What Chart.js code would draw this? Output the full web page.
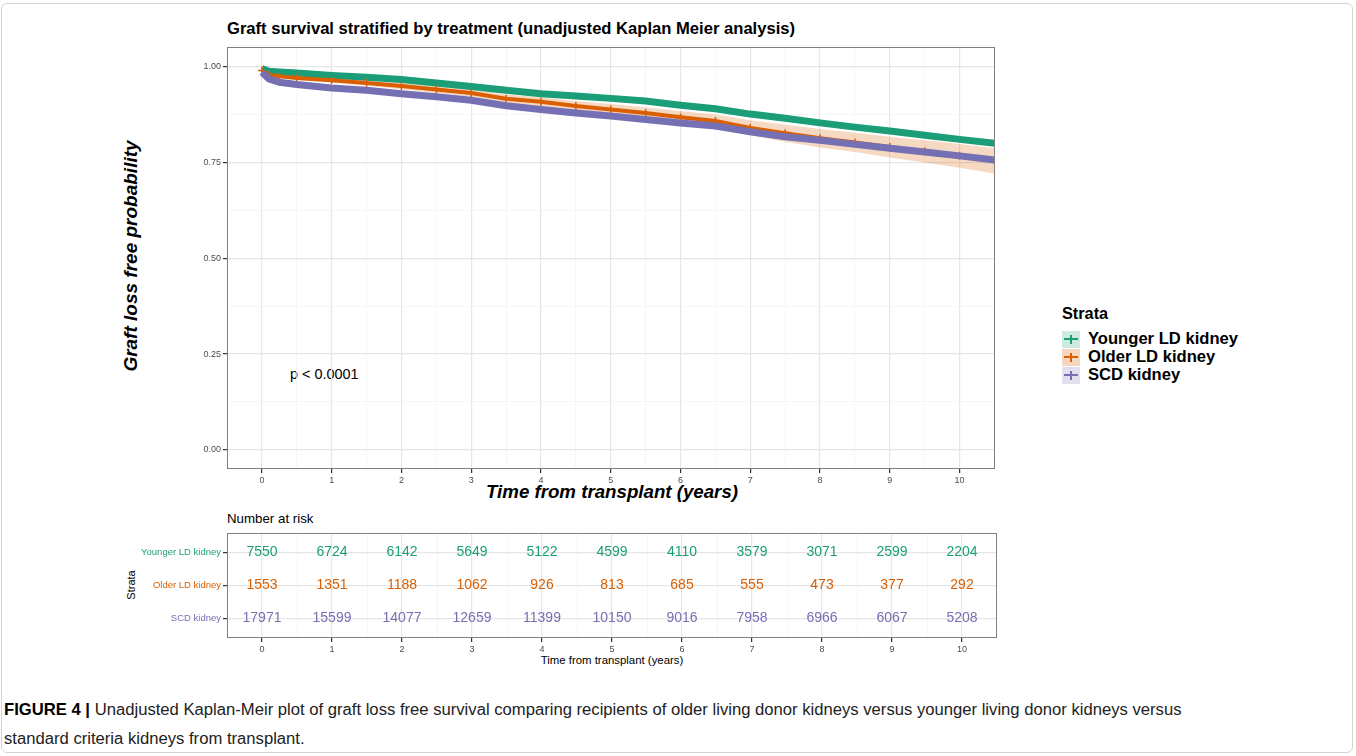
<!DOCTYPE html>
<html>
<head>
<meta charset="utf-8">
<script src="https://cdn.jsdelivr.net/npm/chart.js@4.4.1/dist/chart.umd.min.js"></script>
<style>
  body { margin: 0; background: #fff; font-family: "Liberation Sans", Arial, sans-serif; }
  #page { position: relative; width: 1356px; height: 756px; overflow: hidden; background: #fff; }
  #frame { position: absolute; left: 1px; top: 3px; width: 1350px; height: 748px; border: 1px solid #d4d4d4; border-radius: 6px; }
  .abs { position: absolute; white-space: nowrap; color: #000; }
  #title { left: 227px; top: 20px; font-size: 16.6px; font-weight: bold; line-height: 18px; }
  #ytitle { left: 131px; top: 256px; font-size: 19px; font-weight: bold; font-style: italic; transform: translate(-50%, -50%) rotate(-90deg); }
  #xtitle { left: 612px; top: 492px; font-size: 18.7px; font-weight: bold; font-style: italic; transform: translate(-50%, -50%); }
  #pval { left: 290px; top: 366px; font-size: 14.4px; line-height: 16px; }
  #legend { left: 1062px; top: 304px; }
  #legend .head { font-size: 16.3px; font-weight: bold; line-height: 18px; margin-bottom: 8px; }
  #legend .row { height: 18px; display: flex; align-items: center; font-size: 16.6px; font-weight: bold; }
  #legend .key { position: relative; width: 18px; height: 17px; margin-right: 8px; }
  #legend .key .h { position: absolute; left: 2px; right: 2px; top: 7.5px; height: 2px; }
  #legend .key .v { position: absolute; left: 8px; width: 2px; top: 4px; height: 9px; }
  #riskTitle { left: 227px; top: 511px; font-size: 13.3px; line-height: 16px; }
  #strataLab { left: 131px; top: 585px; font-size: 11px; transform: translate(-50%, -50%) rotate(-90deg); }
  #riskX { left: 612px; top: 660px; font-size: 11.4px; transform: translate(-50%, -50%); }
  #caption { left: 4px; top: 695px; font-size: 16.65px; line-height: 29px; color: #222; }
  #caption b { color: #000; }
  canvas { position: absolute; }
</style>
</head>
<body>
<div id="page">
  <div id="frame"></div>
  <div class="abs" id="title">Graft survival stratified by treatment (unadjusted Kaplan Meier analysis)</div>
  <div class="abs" id="ytitle">Graft loss free probability</div>
  <div class="abs" id="xtitle">Time from transplant (years)</div>
  <div class="abs" id="pval">p &lt; 0.0001</div>
  <div class="abs" id="legend"><div class="head">Strata</div></div>
  <div class="abs" id="riskTitle">Number at risk</div>
  <div class="abs" id="strataLab">Strata</div>
  <div class="abs" id="riskX">Time from transplant (years)</div>
  <div class="abs" id="caption"><b>FIGURE 4 |</b> Unadjusted Kaplan-Meir plot of graft loss free survival comparing recipients of older living donor kidneys versus younger living donor kidneys versus<br>standard criteria kidneys from transplant.</div>
  <canvas id="km" width="850" height="450" style="left:150px;top:40px"></canvas>
  <canvas id="risk" width="880" height="132" style="left:120px;top:525px"></canvas>
</div>
<script>
// strata and colours
var strata = ['Younger LD kidney', 'Older LD kidney', 'SCD kidney'];
var colors = ['#1B9E77', '#D95F02', '#7570B3'];
var keyFill = ['rgba(27,158,119,0.22)', 'rgba(217,95,2,0.25)', 'rgba(117,112,179,0.22)'];

// survival curves
var times   = [0, 0.1, 0.25, 0.5, 1, 1.5, 2, 2.5, 3, 3.5, 4, 4.5, 5, 5.5, 6, 6.5, 7, 7.5, 8, 8.5, 9, 9.5, 10, 10.5];
var younger = [0.995, 0.988, 0.986, 0.983, 0.977, 0.972, 0.966, 0.957, 0.948, 0.938, 0.929, 0.923, 0.917, 0.910, 0.899, 0.890, 0.876, 0.865, 0.853, 0.842, 0.832, 0.821, 0.810, 0.800];
var older   = [0.990, 0.978, 0.975, 0.970, 0.964, 0.957, 0.949, 0.940, 0.931, 0.916, 0.908, 0.897, 0.888, 0.879, 0.868, 0.858, 0.840, 0.826, 0.813, 0.802, 0.790, 0.779, 0.767, 0.754];
var olderUp = [0.993, 0.982, 0.979, 0.975, 0.970, 0.964, 0.957, 0.949, 0.941, 0.927, 0.920, 0.910, 0.902, 0.894, 0.884, 0.875, 0.860, 0.848, 0.837, 0.827, 0.817, 0.808, 0.798, 0.787];
var olderLo = [0.987, 0.974, 0.971, 0.965, 0.958, 0.950, 0.941, 0.931, 0.921, 0.905, 0.896, 0.884, 0.874, 0.864, 0.852, 0.841, 0.820, 0.804, 0.789, 0.777, 0.763, 0.750, 0.736, 0.721];
var scd     = [0.985, 0.968, 0.959, 0.953, 0.944, 0.938, 0.929, 0.921, 0.912, 0.898, 0.888, 0.879, 0.871, 0.862, 0.853, 0.845, 0.830, 0.817, 0.808, 0.797, 0.787, 0.777, 0.767, 0.756];

// axes
var xMajor = [0, 1, 2, 3, 4, 5, 6, 7, 8, 9, 10];
var xMinor = [0.5, 1.5, 2.5, 3.5, 4.5, 5.5, 6.5, 7.5, 8.5, 9.5];
var yMajor = [0, 0.25, 0.5, 0.75, 1];
var yMinor = [0.125, 0.375, 0.625, 0.875];

// number at risk table
var riskTimes = [0, 1, 2, 3, 4, 5, 6, 7, 8, 9, 10];
var riskYounger = [7550, 6724, 6142, 5649, 5122, 4599, 4110, 3579, 3071, 2599, 2204];
var riskOlder   = [1553, 1351, 1188, 1062, 926, 813, 685, 555, 473, 377, 292];
var riskScd     = [17971, 15599, 14077, 12659, 11399, 10150, 9016, 7958, 6966, 6067, 5208];
var rowPos = [3, 2, 1];

function pts(ys) {
  return times.map(function (t, i) { return { x: t, y: ys[i] }; });
}
function isMajor(list, v) {
  return list.some(function (m) { return Math.abs(m - v) < 1e-9; });
}
function allTicks(a, b) {
  return a.concat(b).sort(function (p, q) { return p - q; }).map(function (v) { return { value: v }; });
}

// legend
var leg = document.getElementById('legend');
strata.forEach(function (s, i) {
  var row = document.createElement('div');
  row.className = 'row';
  row.innerHTML = '<div class="key" style="background:' + keyFill[i] + '"><div class="h" style="background:' + colors[i] + '"></div><div class="v" style="background:' + colors[i] + '"></div></div><span>' + s + '</span>';
  leg.appendChild(row);
});

var panelBorder = {
  id: 'panelBorder',
  afterDraw: function (chart) {
    var a = chart.chartArea, c = chart.ctx;
    c.save();
    c.strokeStyle = '#808080';
    c.lineWidth = 1;
    c.strokeRect(Math.round(a.left) + 0.5, Math.round(a.top) + 0.5, Math.round(a.right - a.left) - 1, Math.round(a.bottom - a.top) - 1);
    c.restore();
  }
};

function gridOpts(major) {
  return {
    color: function (ctx) { return isMajor(major, ctx.tick.value) ? '#e6e6e6' : '#f2f2f2'; },
    lineWidth: function (ctx) { return isMajor(major, ctx.tick.value) ? 1.2 : 0.7; },
    tickColor: function (ctx) { return isMajor(major, ctx.tick.value) ? '#333' : 'rgba(0,0,0,0)'; },
    tickLength: 4,
    drawTicks: true
  };
}

var tickFont = { family: '"Liberation Sans", Arial, sans-serif', size: 9 };

new Chart(document.getElementById('km'), {
  type: 'line',
  data: {
    datasets: [
      { label: 'upper', data: pts(olderUp), borderWidth: 0, pointRadius: 0, fill: '+1', backgroundColor: 'rgba(217,95,2,0.24)', order: 10 },
      { label: 'lower', data: pts(olderLo), borderWidth: 0, pointRadius: 0, fill: false, order: 9 },
      { label: strata[0], data: pts(younger), borderColor: colors[0], borderWidth: 7, pointRadius: 0, fill: false, order: 3 },
      { label: strata[1], data: pts(older), borderColor: colors[1], borderWidth: 4, pointStyle: 'cross', pointRadius: 4, pointBorderWidth: 1.5, pointBorderColor: colors[1], fill: false, order: 2 },
      { label: strata[2], data: pts(scd), borderColor: colors[2], borderWidth: 7, pointRadius: 0, fill: false, order: 1 }
    ]
  },
  options: {
    responsive: false,
    animation: false,
    layout: { padding: { top: 4, right: 3, left: 0, bottom: 0 } },
    plugins: { legend: { display: false }, tooltip: { enabled: false } },
    scales: {
      x: {
        type: 'linear', min: -0.5, max: 10.5,
        afterBuildTicks: function (ax) { ax.ticks = allTicks(xMajor, xMinor); },
        afterFit: function (ax) { ax.height = 21; },
        grid: gridOpts(xMajor),
        border: { display: false },
        ticks: {
          autoSkip: false, maxRotation: 0, padding: 2, color: '#4d4d4d', font: tickFont,
          callback: function (v) { return isMajor(xMajor, v) ? String(v) : ''; }
        }
      },
      y: {
        type: 'linear', min: -0.05, max: 1.05,
        afterBuildTicks: function (ax) { ax.ticks = allTicks(yMajor, yMinor); },
        afterFit: function (ax) { ax.width = 77; },
        grid: gridOpts(yMajor),
        border: { display: false },
        ticks: {
          autoSkip: false, padding: 2, color: '#4d4d4d', font: tickFont,
          callback: function (v) { return isMajor(yMajor, v) ? v.toFixed(2) : ''; }
        }
      }
    }
  },
  plugins: [panelBorder]
});

// risk table: each count is placed at (riskTimes[j], rowPos[i]) through the chart scales
var riskRows = [riskYounger, riskOlder, riskScd];
var riskLabels = {
  id: 'riskLabels',
  afterDraw: function (chart) {
    var c = chart.ctx, sx = chart.scales.x, sy = chart.scales.y;
    c.save();
    c.font = '14px "Liberation Sans", Arial, sans-serif';
    c.textAlign = 'center';
    c.textBaseline = 'middle';
    riskRows.forEach(function (row, i) {
      c.fillStyle = colors[i];
      row.forEach(function (n, j) {
        c.fillText(String(n), sx.getPixelForValue(riskTimes[j]), sy.getPixelForValue(rowPos[i]));
      });
    });
    c.restore();
  }
};

new Chart(document.getElementById('risk'), {
  type: 'scatter',
  data: {
    datasets: strata.map(function (s, i) {
      return {
        label: s,
        data: riskTimes.map(function (t) { return { x: t, y: rowPos[i] }; }),
        pointRadius: 0
      };
    })
  },
  options: {
    responsive: false,
    animation: false,
    layout: { padding: { top: 7, right: 3, left: 0, bottom: 0 } },
    plugins: { legend: { display: false }, tooltip: { enabled: false } },
    scales: {
      x: {
        type: 'linear', min: -0.5, max: 10.5,
        afterBuildTicks: function (ax) { ax.ticks = allTicks(xMajor, xMinor); },
        afterFit: function (ax) { ax.height = 19; },
        grid: gridOpts(xMajor),
        border: { display: false },
        ticks: {
          autoSkip: false, maxRotation: 0, padding: 2, color: '#4d4d4d', font: tickFont,
          callback: function (v) { return isMajor(xMajor, v) ? String(v) : ''; }
        }
      },
      y: {
        type: 'linear', min: 0.4, max: 3.6,
        afterBuildTicks: function (ax) { ax.ticks = rowPos.map(function (v) { return { value: v }; }); },
        afterFit: function (ax) { ax.width = 107; },
        grid: {
          color: '#e6e6e6', lineWidth: 1.2, tickLength: 4,
          tickColor: '#333'
        },
        border: { display: false },
        ticks: {
          autoSkip: false, padding: 2,
          font: { family: '"Liberation Sans", Arial, sans-serif', size: 9.5 },
          color: function (ctx) { return colors[rowPos.indexOf(ctx.tick.value)]; },
          callback: function (v) { return strata[rowPos.indexOf(v)]; }
        }
      }
    }
  },
  plugins: [panelBorder, riskLabels]
});
</script>
</body>
</html>
